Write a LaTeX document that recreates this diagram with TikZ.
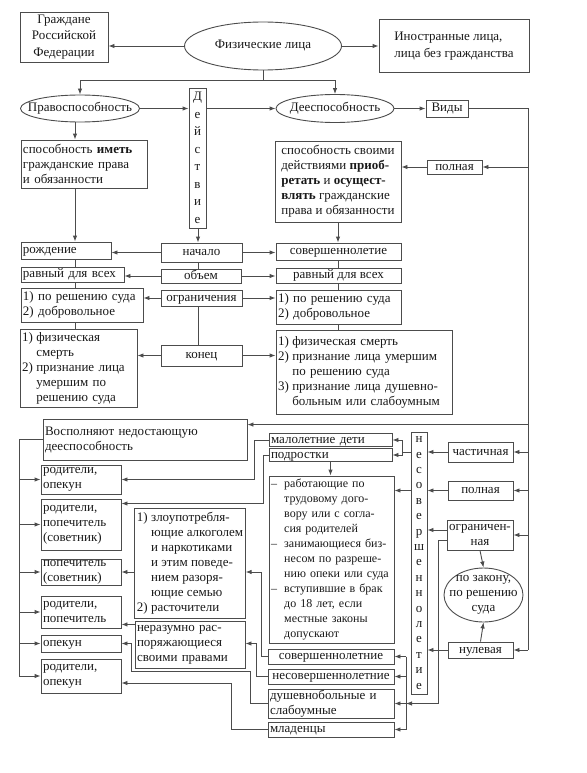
\documentclass[tikz,border=0pt]{standalone}
\usepackage{fontspec}
\setmainfont{Liberation Serif}
\usetikzlibrary{arrows.meta,shapes.geometric}

\newcommand{\itm}[1]{\makebox[1.1em][l]{#1}}
\newcommand{\ind}{\hspace*{1.1em}}

\begin{document}
\begin{tikzpicture}[x=1pt,y=-1pt,
    color=black!70, line width=0.9pt,
    >={Latex[length=6pt,width=4.5pt]},
    every node/.style={font=\fontsize{13}{15}\selectfont, text=black!90},
    box/.style={draw, rectangle, inner xsep=2pt, inner ysep=0pt, align=left},
    cbox/.style={box, align=center},
    one/.style={text height=8pt, text depth=2pt},
    oval/.style={draw, ellipse, inner xsep=-30pt, inner ysep=-12pt, align=center},
    vword/.style={draw, rectangle, inner sep=0pt, align=center, font=\fontsize{13}{17.5}\selectfont}
]
\useasboundingbox (0,0) rectangle (586,773);

% top row
\node[cbox, minimum width=88pt, minimum height=50pt, font=\fontsize{13}{16.5}\selectfont] (grazh) at (64,37) {Граждане\\Российской\\Федерации};
\node[oval, minimum width=157pt, minimum height=48pt] (fiz) at (263,46) {Физические лица};
\node[box, minimum width=150pt, minimum height=53pt, font=\fontsize{13}{16.5}\selectfont] (inostr) at (454,46) {Иностранные лица,\\лица без гражданства};

\node[oval, minimum width=119pt, minimum height=27pt] (pravo) at (80,108.5) {Правоспособность};
\node[vword, minimum width=17pt, minimum height=140pt] (deystv) at (197.5,158) {Д\\е\\й\\с\\т\\в\\и\\е};
\node[oval, minimum width=118pt, minimum height=28pt] (deesp) at (335,108.5) {Дееспособность};
\node[cbox, one, minimum width=42pt, minimum height=17pt] (vidy) at (447,108.5) {Виды};

\node[box, text width=122pt, minimum height=48pt] (imet) at (84,164) {способность \textbf{иметь}\\гражданские права\\и обязанности};
\node[box, minimum width=126pt, minimum height=81pt] (sposob) at (338,181.5) {способность своими\\действиями \textbf{приоб-}\\\textbf{ретать} и \textbf{осущест-}\\\textbf{влять} гражданские\\права и обязанности};
\node[cbox, one, minimum width=55pt, minimum height=14pt] (polnA) at (454.5,167) {полная};

% beginning, scope, limits, end
\node[box, one, text width=86pt, minimum height=17pt] (rozhd) at (66,250.5) {рождение};
\node[cbox, one, minimum width=81pt, minimum height=19pt] (nachalo) at (201.5,252.5) {начало};
\node[cbox, one, minimum width=125pt, minimum height=17pt] (sovlet) at (338.5,251.5) {совершеннолетие};
\node[box, one, text width=99pt, minimum height=15pt] (ravL) at (72.5,274.5) {равный для всех};
\node[cbox, one, minimum width=80pt, minimum height=14pt] (obem) at (201,276) {объем};
\node[cbox, one, minimum width=125pt, minimum height=15pt] (ravR) at (338.5,275.5) {равный для всех};
\node[box, text width=118pt, minimum height=34pt] (resL) at (82,305) {1) по решению суда\\2) добровольное};
\node[cbox, one, minimum width=81pt, minimum height=16pt] (ogr) at (201.5,298) {ограничения};
\node[box, text width=121pt, minimum height=34pt] (resR) at (338.5,307) {1) по решению суда\\2) добровольное};
\node[box, text width=113pt, minimum height=78pt] (smertL) at (78.5,368) {\itm{1)}физическая\\\ind смерть\\\itm{2)}признание лица\\\ind умершим по\\\ind решению суда};
\node[cbox, one, minimum width=81pt, minimum height=21pt] (konec) at (201.5,355.5) {конец};
\node[box, text width=172pt, minimum height=84pt] (smertR) at (364,372) {\itm{1)}физическая смерть\\\itm{2)}признание лица умершим\\\ind по решению суда\\\itm{3)}признание лица душевно-\\\ind больным или слабоумным};

% who fills the capacity
\node[box, text width=200pt, minimum height=41pt] (vospoln) at (145,439.5) {Восполняют недостающую\\дееспособность};
\node[box, text width=76pt, minimum height=29pt] (ropekA) at (81,479.5) {родители,\\опекун};
\node[box, text width=76pt, minimum height=51pt] (rpopA) at (81,524.5) {родители,\\попечитель\\(советник)};
\node[box, text width=76pt, minimum height=26pt] (popsov) at (81,572) {попечитель\\(советник)};
\node[box, text width=76pt, minimum height=32pt] (rpopB) at (81,612) {родители,\\попечитель};
\node[box, one, text width=76pt, minimum height=17pt] (opekun) at (81,643.5) {опекун};
\node[box, text width=76pt, minimum height=34pt] (ropekB) at (81,676) {родители,\\опекун};

\node[box, minimum width=110pt, minimum height=110pt] (zloup) at (190,563) {\itm{1)}злоупотребля-\\\ind ющие алкоголем\\\ind и наркотиками\\\ind и этим поведе-\\\ind нием разоря-\\\ind ющие семью\\\itm{2)}расточители};
\node[box, text width=106pt, minimum height=47pt] (nerazum) at (190,644.5) {неразумно рас-\\поряжающиеся\\своими правами};

\node[box, one, text width=119pt, minimum height=13pt] (malolet) at (330.5,440) {малолетние дети};
\node[box, one, text width=119pt, minimum height=13pt] (podrost) at (330.5,455) {подростки};
\node[box, text width=121pt, minimum height=167pt, font=\fontsize{12}{15}\selectfont] (rabot) at (331.5,559.5) {\itm{–}работающие по\\\ind трудовому дого-\\\ind вору или с согла-\\\ind сия родителей\\\itm{–}занимающиеся биз-\\\ind несом по разреше-\\\ind нию опеки или суда\\\itm{–}вступившие в брак\\\ind до 18 лет, если\\\ind местные законы\\\ind допускают};

\node[box, one, minimum width=126pt, minimum height=15pt] (sovnie) at (331,656.5) {совершеннолетние};
\node[box, one, minimum width=126pt, minimum height=15pt] (nesovnie) at (331,676.5) {несовершеннолетние};
\node[box, text width=122pt, minimum height=29pt] (dushev) at (331,703.5) {душевнобольные и\\слабоумные};
\node[box, one, text width=122pt, minimum height=15pt] (mladen) at (331,729.5) {младенцы};

% kinds of capacity
\node[vword, font=\fontsize{13}{15.4}\selectfont, minimum width=16pt, minimum height=262pt] (nesov) at (419,563) {н\\е\\с\\о\\в\\е\\р\\ш\\е\\н\\н\\о\\л\\е\\т\\и\\е};
\node[cbox, one, minimum width=65pt, minimum height=20pt] (chast) at (480.5,452) {частичная};
\node[cbox, one, minimum width=65pt, minimum height=19pt] (polnB) at (480.5,490.5) {полная};
\node[cbox, minimum width=66pt, minimum height=30pt] (ogranich) at (480,535) {ограничен-\\ная};
\node[oval, minimum width=79pt, minimum height=54pt] (zakon) at (483.5,595) {по закону,\\по решению\\суда};
\node[cbox, one, minimum width=65pt, minimum height=16pt] (nulev) at (480.5,650) {нулевая};

\coordinate (lsp) at (75,0);
\coordinate (msp) at (198,0);
\coordinate (rsp) at (338,0);
\coordinate (rx) at (528,0);
\coordinate (lx) at (19,0);
\coordinate (bus) at (406,0);
\coordinate (ogx) at (438,0);

% top connectors
\draw[->] (fiz.west) -- (fiz.west -| grazh.east);
\draw[->] (fiz.east) -- (fiz.east -| inostr.west);
\draw (fiz.south) -- ++(0,10) coordinate (fork);
\draw[->] (fork) -| (pravo.north);
\draw[->] (fork) -| (deesp.north);
\draw[->] (pravo.east) -- (pravo.east -| deystv.west);
\draw[->] (deystv.east |- deesp) -- (deesp.west);
\draw[->] (deesp.east) -- (vidy.west);
\draw (vidy.east) -- (vidy.east -| rx) -- (rx |- nulev);

% left and right columns
\draw[->] (pravo.south -| lsp) -- (imet.north -| lsp);
\draw[->] (imet.south -| lsp) -- (rozhd.north -| lsp);
\draw (rozhd.south -| lsp) -- (ravL.north -| lsp);
\draw (ravL.south -| lsp) -- (resL.north -| lsp);
\draw (resL.south -| lsp) -- (smertL.north -| lsp);
\draw[->] (rx |- polnA) -- (polnA.east);
\draw[->] (polnA.west) -- (polnA.west -| sposob.east);
\draw[->] (sposob.south -| rsp) -- (sovlet.north -| rsp);
\draw (sovlet.south -| rsp) -- (ravR.north -| rsp);
\draw (ravR.south -| rsp) -- (resR.north -| rsp);
\draw (resR.south -| rsp) -- (smertR.north -| rsp);

% middle column
\draw[->] (deystv.south -| msp) -- (nachalo.north -| msp);
\draw (nachalo.south -| msp) -- (obem.north -| msp);
\draw (ogr.south -| msp) -- (konec.north -| msp);
\draw[->] (nachalo.west) -- (nachalo.west -| rozhd.east);
\draw[->] (nachalo.east) -- (nachalo.east -| sovlet.west);
\draw[->] (obem.west) -- (obem.west -| ravL.east);
\draw[->] (obem.east) -- (obem.east -| ravR.west);
\draw[->] (ogr.west) -- (ogr.west -| resL.east);
\draw[->] (ogr.east) -- (ogr.east -| resR.west);
\draw[->] (konec.west) -- (konec.west -| smertL.east);
\draw[->] (konec.east) -- (konec.east -| smertR.west);

% kinds
\coordinate (vin) at ([yshift=-6pt]vospoln.north east);
\draw[->] (rx |- vin) -- (vin);
\draw[->] (rx |- chast) -- (chast.east);
\draw[->] (chast.west) -- (chast.west -| nesov.east);
\draw (nesov.west |- chast) -- ++(-8,0) coordinate (nfork);
\draw (nfork |- malolet) -- (nfork |- podrost);
\draw[->] (nfork |- malolet) -- (malolet.east);
\draw[->] (nfork |- podrost) -- (podrost.east);
\draw[->] (rx |- polnB) -- (polnB.east);
\draw[->] (polnB.west) -- (polnB.west -| nesov.east);
\draw[->] (nesov.west |- polnB) -- (rabot.east |- polnB);
\draw[->] (rx |- ogranich) -- (ogranich.east);
\coordinate (ogA) at ([yshift=5pt]ogranich.west);
\coordinate (ogB) at ([yshift=-5pt]ogranich.west);
\draw[->] (ogA) -- (ogA -| nesov.east);
\draw[->] (ogB) -| (ogx |- dushev) -- (bus |- dushev);
\draw[->] (ogranich.south) -- (zakon.north);
\draw[->] (nulev.north) -- (zakon.south);
\draw[->] (rx |- nulev) -- (nulev.east);
\draw[->] (nulev.west) -- (nulev.west -| nesov.east);
\draw[->] (podrost.south) -- (podrost.south |- rabot.north);

% bus to the four groups
\draw (bus |- sovnie) -- (bus |- mladen);
\draw[->] (bus |- sovnie) -- (sovnie.east);
\draw[->] (bus |- nesovnie) -- (nesovnie.east);
\draw[->] (bus |- dushev) -- (dushev.east);
\draw[->] (bus |- mladen) -- (mladen.east);

% who fills the capacity
\draw (vospoln.west) -- (vospoln.west -| lx) -- (lx |- ropekB);
\draw[->] (lx |- ropekA) -- (ropekA.west);
\draw[->] (lx |- rpopA) -- (rpopA.west);
\draw[->] (lx |- popsov) -- (popsov.west);
\draw[->] (lx |- rpopB) -- (rpopB.west);
\draw[->] (lx |- opekun) -- (opekun.west);
\draw[->] (lx |- ropekB) -- (ropekB.west);

\coordinate (pin) at ([yshift=21pt]rpopA.east);
\coordinate (rin) at ([yshift=4pt]rpopB.south east);
\coordinate (mlin) at ([yshift=-7pt]ropekB.east);
\coordinate (dA) at (250,671);
\coordinate (dB) at (131,671);
\draw[->] (malolet.west) -- ++(-14,0) |- (ropekA.east);
\draw[->] (podrost.west) -- ++(-5,0) |- (pin);
\draw[->] (zloup.west |- popsov) -- (popsov.east);
\draw[->] (sovnie.west) -- ++(-6,0) |- (zloup.east |- popsov);
\draw[->] (nerazum.west |- rin) -- (rin);
\draw[->] (nesovnie.west) -- ++(-11,0) |- (nerazum.east |- opekun);
\draw[->] (dushev.west) -| (dA) -- (dB) |- (opekun.east);
\draw[->] (mladen.west) -- ++(-36,0) |- (mlin);

\end{tikzpicture}
\end{document}
